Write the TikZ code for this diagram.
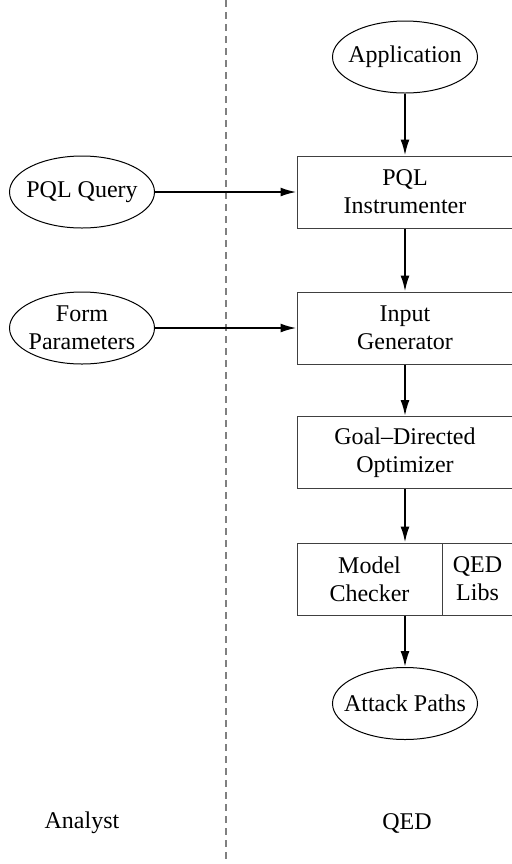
\documentclass[tikz,border=0pt]{standalone}
\usepackage{fontspec}
\setmainfont{Liberation Serif}
\usetikzlibrary{shapes.geometric,arrows.meta}
\tikzset{
	block/.style={draw=black!75, line width=0.5pt, minimum width=108pt,
		minimum height=36pt, inner sep=0pt, align=center},
	blob/.style={ellipse, draw, line width=0.5pt, minimum width=72.5pt,
		minimum height=36pt, inner xsep=-12pt, inner ysep=-7pt, align=center},
	flow/.style={-{Latex[length=8pt,width=4.5pt]}, line width=1pt},
}
\begin{document}
\begin{tikzpicture}[x=0.5pt, y=-0.5pt, font=\fontsize{12}{14}\selectfont]
	\def \qedx{405}
	\def \userx{82}
	\def \sepx{226}

	\useasboundingbox (0,0) rectangle (511,864);

	% Separator
	\draw[gray, line width=0.6pt, dash pattern=on 3.5pt off 2.5pt]
		(\sepx,0) -- (\sepx,864);

	% QED side
	\node[blob] (app) at (\qedx,57) {Application};
	\node[block] (instr) at (\qedx,192) {PQL\\Instrumenter};
	\node[block] (gen) at (\qedx,328) {Input\\Generator};
	\node[block] (goal) at (\qedx,452.5) {Goal--Directed\\Optimizer};
	\node[block, minimum width=72.5pt] (checker) at (369.5,579) {Model\\Checker};
	\node[block, minimum width=35.5pt] (libs) at (477.5,579) {QED\\Libs};
	\node[blob] (paths) at (\qedx,703.5) {Attack Paths};

	% Analyst side
	\node[blob] (query) at (\userx,192) {PQL Query};
	\node[blob] (params) at (\userx,328) {Form\\Parameters};

	% Flow
	\draw[flow] (app) -- (instr);
	\draw[flow] (instr) -- (gen);
	\draw[flow] (gen) -- (goal);
	\draw[flow] (goal) -- (goal |- checker.north);
	\draw[flow] (paths.north |- checker.south) -- (paths);
	\draw[flow] (query) -- (instr);
	\draw[flow] (params) -- (gen);

	% Roles
	\node (analyst) at (\userx,823) {Analyst};
	\node (qed) at (407,823) {QED};
\end{tikzpicture}
\end{document}
